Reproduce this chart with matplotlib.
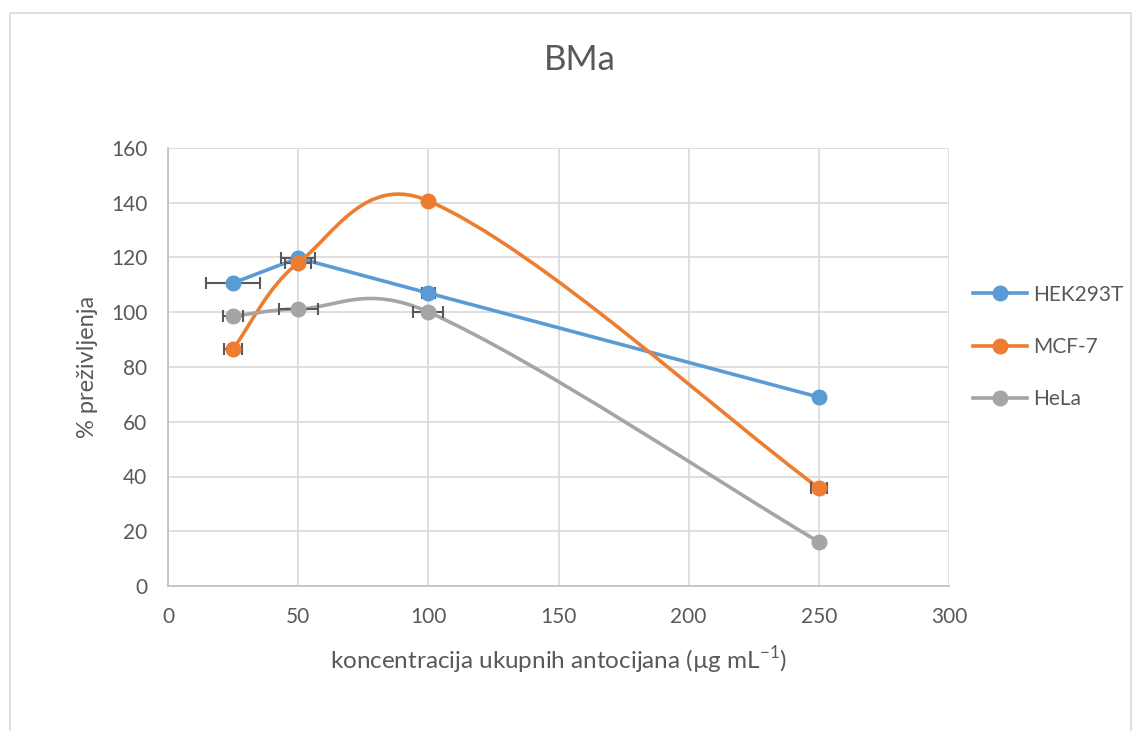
import math
import matplotlib
matplotlib.use("Agg")
import matplotlib.pyplot as plt
from matplotlib.path import Path
from matplotlib.patches import PathPatch, Rectangle
from matplotlib.lines import Line2D

plt.rcParams['font.family'] = ['Lato', 'DejaVu Sans']
plt.rcParams['mathtext.fontset'] = 'custom'
plt.rcParams['mathtext.rm'] = 'Lato'

# ---- data ----
conc = [25, 50, 100, 250]
hek = [110.7, 119.8, 107.0, 69.0]
mcf = [86.6, 118.0, 140.7, 35.8]
hela = [98.6, 101.2, 100.1, 16.1]
hek_xerr = [10.5, 6.5, 2.5, 0.0]
mcf_xerr = [3.5, 5.0, 0.0, 3.0]
hela_xerr = [4.0, 7.5, 5.8, 0.0]
series_names = ["HEK293T", "MCF-7", "HeLa"]
colors = ["#5B9BD5", "#ED7D31", "#A5A5A5"]
smooth = [False, True, True]
xticks = [0, 50, 100, 150, 200, 250, 300]
yticks = [0, 20, 40, 60, 80, 100, 120, 140, 160]

TXT = "#595959"

fig = plt.figure(figsize=(11.37, 7.31), dpi=100)
# outer chart border
fig.patches.append(Rectangle((10/1137, -0.05), (1131-10)/1137, 1 + 0.05 - 13/731,
                             transform=fig.transFigure, fill=False,
                             edgecolor="#D9D9D9", linewidth=1.2))

ax = fig.add_axes([168/1137, 1 - 586/731, (949-168)/1137, (586-148)/731])
ax.set_xlim(0, 300)
ax.set_ylim(0, 160)
ax.set_xticks(xticks)
ax.set_yticks(yticks)
ax.grid(True, color="#D9D9D9", linewidth=1.2)
ax.set_axisbelow(True)
for s in ['top', 'right']:
    ax.spines[s].set_visible(False)
for s in ['left', 'bottom']:
    ax.spines[s].set_color("#BFBFBF")
    ax.spines[s].set_linewidth(1.2)
ax.tick_params(length=0, labelsize=15, colors=TXT, pad=15)

# pixel scale factors (for chord lengths)
sx = 781 / 300.0
sy = 438 / 160.0


def smooth_path(xs, ys):
    n = len(xs)

    def dist(i, j):
        return math.hypot((xs[j] - xs[i]) * sx, (ys[j] - ys[i]) * sy)

    verts = [(xs[0], ys[0])]
    codes = [Path.MOVETO]
    for i in range(n - 1):
        i0, i3 = max(i - 1, 0), min(i + 2, n - 1)
        d01, d12, d23 = dist(i0, i), dist(i, i + 1), dist(i + 1, i3)
        f1 = 0.5 / 6.0 + 0.5 * d12 / (d12 + d01) / 3.0
        f2 = 0.5 / 6.0 + 0.5 * d12 / (d12 + d23) / 3.0
        c1 = (xs[i] + (xs[i + 1] - xs[i0]) * f1, ys[i] + (ys[i + 1] - ys[i0]) * f1)
        c2 = (xs[i + 1] - (xs[i3] - xs[i]) * f2, ys[i + 1] - (ys[i3] - ys[i]) * f2)
        verts += [c1, c2, (xs[i + 1], ys[i + 1])]
        codes += [Path.CURVE4] * 3
    return Path(verts, codes)


handles = []
for k, (ys, xe) in enumerate([(hek, hek_xerr), (mcf, mcf_xerr), (hela, hela_xerr)]):
    c = colors[k]
    z = 3 + k
    if smooth[k]:
        ax.add_patch(PathPatch(smooth_path(conc, ys), facecolor='none',
                               edgecolor=c, linewidth=2.6, zorder=z,
                               capstyle='round'))
    else:
        ax.plot(conc, ys, color=c, linewidth=2.6, zorder=z,
                solid_capstyle='round')
    ax.errorbar(conc, ys, xerr=xe, fmt='none', ecolor="#595959",
                elinewidth=1.5, capsize=4.5, capthick=1.5, zorder=z + 0.1)
    ax.plot(conc, ys, linestyle='none', marker='o', markersize=10.5,
            color=c, zorder=z + 0.2)
    handles.append(Line2D([], [], color=c, linewidth=2.6, marker='o',
                          markersize=10.5))

fig.legend(handles, series_names, loc='upper left',
           bbox_to_anchor=(954/1137, 1 - 266/731), frameon=False,
           fontsize=15, labelcolor=TXT, handlelength=2.6,
           handletextpad=0.3, labelspacing=1.55)

fig.text(580/1137, 1 - 60/731, "BMa", ha='center', va='center',
         fontsize=25, color=TXT)
fig.text(559/1137, 1 - 660/731, r"koncentracija ukupnih antocijana (µg mL$^{\mathrm{-1}}$)",
         ha='center', va='center', fontsize=17.5, color=TXT)
fig.text(88/1137, 1 - 367/731, "% preživljenja", ha='center', va='center',
         rotation=90, fontsize=17, color=TXT)

fig.savefig("out.png", dpi=100)
